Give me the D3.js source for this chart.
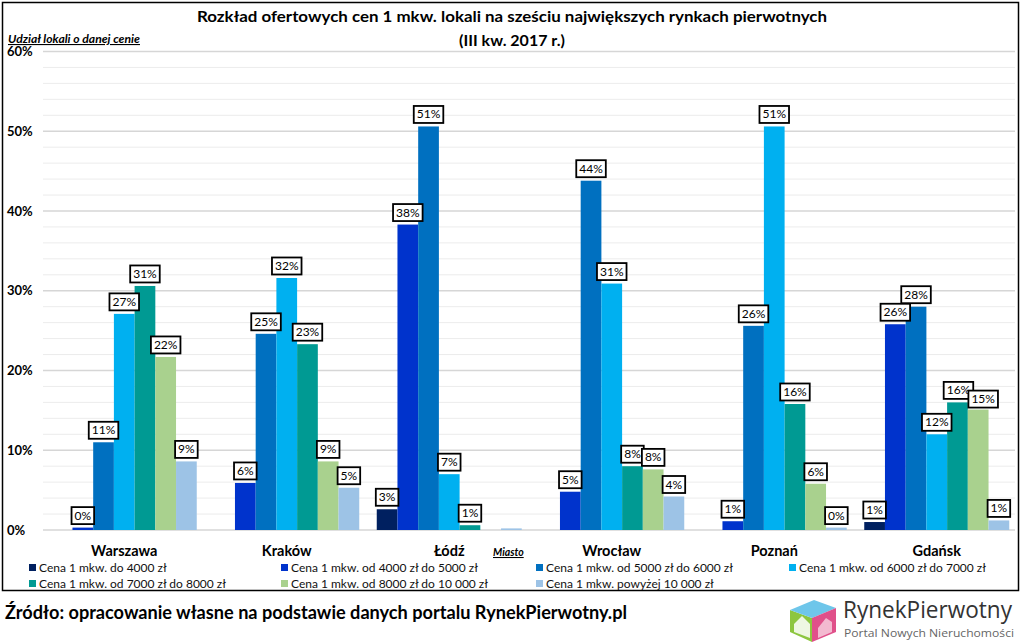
<!DOCTYPE html>
<html><head><meta charset="utf-8">
<script src="https://cdn.jsdelivr.net/npm/d3@7"></script>
<style>
html,body{margin:0;padding:0;background:#fff;}
svg{display:block;font-family:Lato,"Open Sans",sans-serif;}
</style></head>
<body>
<svg id="c" width="1024" height="644"></svg>
<script>
const cities = ["Warszawa","Kraków","Łódź","Wrocław","Poznań","Gdańsk"];
const seriesNames = [
  "Cena 1 mkw. do 4000 zł",
  "Cena 1 mkw. od 4000 zł do 5000 zł",
  "Cena 1 mkw. od 5000 zł do 6000 zł",
  "Cena 1 mkw. od 6000 zł do 7000 zł",
  "Cena 1 mkw. od 7000 zł do 8000 zł",
  "Cena 1 mkw. od 8000 zł do 10 000 zł",
  "Cena 1 mkw. powyżej 10 000 zł"
];
const seriesColors = ["#002060","#0033CC","#0070C0","#00B0F0","#009A93","#A9D18E","#9DC3E6"];
// values in % per city (order of cities)
const s1 = [null, null, 2.6, null, null, 1.0];
const s2 = [0.3, 5.9, 38.3, 4.8, 1.1, 25.8];
const s3 = [11.0, 24.6, 50.6, 43.8, 25.6, 28.0];
const s4 = [27.1, 31.6, 7.0, 30.9, 50.6, 12.0];
const s5 = [30.6, 23.3, 0.6, 8.0, 15.8, 16.0];
const s6 = [21.7, 8.6, null, 7.6, 5.8, 15.1];
const s7 = [8.6, 5.3, 0.2, 4.2, 0.3, 1.2];
const seriesValues = [s1,s2,s3,s4,s5,s6,s7];
const hiddenLabels = [["Łódź", 6]];
const yTicks = [0,10,20,30,40,50,60];

const svg = d3.select("#c");
const L = 43, R = 1018, T = 51.5, B = 530;
const x0 = d3.scaleBand().domain(cities).range([L, R]).padding(0);
const x1 = d3.scaleBand().domain(d3.range(7)).range([8.75, x0.bandwidth() - 8.75]).padding(0);
const y = d3.scaleLinear().domain([0, 60]).range([B, T]);
// label placement tweaks (to avoid collisions, as in the original)
const labelNudge = (city, si) => (city === "Gdańsk" && si === 5) ? [5, 1.5] : (city === "Gdańsk" && si === 4) ? [1, 0] : [0, 0];

// frame
svg.append("rect").attr("x",2.5).attr("y",2.5).attr("width",1016).attr("height",588)
  .attr("fill","none").attr("stroke","#000").attr("stroke-width",1.5);

// grid
const minor = d3.range(0, 61, 2).filter(v => v % 10 !== 0);
svg.append("g").selectAll("line").data(minor).join("line")
  .attr("x1", L).attr("x2", 1015).attr("y1", d => y(d)).attr("y2", d => y(d))
  .attr("stroke", "#ececec").attr("stroke-width", 1);
svg.append("g").selectAll("line").data(yTicks).join("line")
  .attr("x1", L).attr("x2", 1015).attr("y1", d => y(d)).attr("y2", d => y(d))
  .attr("stroke", "#d6d6d6").attr("stroke-width", 1.6);

// y axis labels
const yAxis = d3.axisLeft(y).tickValues(yTicks).tickFormat(d => d + "%").tickSize(0);
const ya = svg.append("g").attr("transform", "translate(32,0)").call(yAxis);
ya.select(".domain").remove();
ya.selectAll("text").attr("font-family","Lato, sans-serif").attr("font-size","13px")
  .attr("font-weight","bold").attr("fill","#000").attr("text-anchor","start").attr("x",-25);

// bars
const flat = [];
seriesValues.forEach((arr, si) => arr.forEach((v, ci) => {
  if (v !== null) flat.push({si, city: cities[ci], v});
}));
svg.append("g").selectAll("rect").data(flat).join("rect")
  .attr("x", d => x0(d.city) + x1(d.si))
  .attr("width", x1.bandwidth())
  .attr("y", d => y(d.v))
  .attr("height", d => y(0) - y(d.v))
  .attr("fill", d => seriesColors[d.si]);

// labels
const labGroup = svg.append("g");
flat.filter(d => !hiddenLabels.some(h => h[0] === d.city && h[1] === d.si)).forEach(d => {
  const [nx, ny] = labelNudge(d.city, d.si);
  const cx = x0(d.city) + x1(d.si) + x1.bandwidth() / 2 + nx;
  const g = labGroup.append("g");
  const bottom = y(d.v) - 3.5 + ny;
  const t = g.append("text").attr("x", cx).attr("y", bottom - 4.5)
    .attr("text-anchor", "middle").attr("font-size", "12px").attr("fill", "#000")
    .attr("font-family", "Lato, sans-serif")
    .text(Math.round(d.v) + "%");
  const w = t.node().getComputedTextLength() + 6;
  g.insert("rect", "text").attr("x", cx - w / 2).attr("y", bottom - 17).attr("width", w).attr("height", 17)
    .attr("fill", "#fff").attr("stroke", "#000").attr("stroke-width", 1.8);
});

// category labels
svg.append("g").selectAll("text").data(cities).join("text")
  .attr("x", d => x0(d) + x0.bandwidth() / 2).attr("y", 556)
  .attr("text-anchor", "middle").attr("font-size", "14.5px").attr("font-weight", "bold")
  .text(d => d);

// axis titles
svg.append("text").attr("x", 493).attr("y", 556).attr("font-size", "10.5px")
  .attr("font-weight", "bold").attr("font-style", "italic").attr("text-decoration", "underline")
  .text("Miasto");
svg.append("text").attr("x", 8).attr("y", 43).attr("font-size", "11px")
  .attr("font-weight", "bold").attr("font-style", "italic").attr("text-decoration", "underline")
  .attr("textLength", 132).attr("lengthAdjust", "spacingAndGlyphs")
  .text("Udział lokali o danej cenie");

// title
svg.append("text").attr("x", 512).attr("y", 22).attr("text-anchor", "middle")
  .attr("font-size", "16px").attr("font-weight", "bold")
  .attr("textLength", 630).attr("lengthAdjust", "spacingAndGlyphs")
  .text("Rozkład ofertowych cen 1 mkw. lokali na sześciu największych rynkach pierwotnych");
svg.append("text").attr("x", 512).attr("y", 46).attr("text-anchor", "middle")
  .attr("font-size", "16px").attr("font-weight", "bold")
  .text("(III kw. 2017 r.)");

// legend
const legX = [29, 281, 536, 789];
const leg = svg.append("g").selectAll("g").data(seriesNames).join("g")
  .attr("transform", (d, i) => `translate(${legX[i % 4]},${i < 4 ? 568 : 584})`);
leg.append("rect").attr("x", 0).attr("y", -4).attr("width", 7).attr("height", 7)
  .attr("fill", (d, i) => seriesColors[i]);
leg.append("text").attr("x", 10).attr("y", 4).attr("font-size", "12px").attr("fill", "#111")
  .text(d => d);

// source
svg.append("text").attr("x", 5).attr("y", 619).attr("font-size", "19px").attr("font-weight", "bold")
  .attr("textLength", 622).attr("lengthAdjust", "spacingAndGlyphs")
  .text("Źródło: opracowanie własne na podstawie danych portalu RynekPierwotny.pl");

// logo
const lg = svg.append("g").attr("transform", "translate(788,597)");
lg.append("polygon").attr("points", "2,13 24,21 24,45 2,35").attr("fill", "#8DC63F");
lg.append("polygon").attr("points", "2,13 26,3 48,11 24,21").attr("fill", "#6EC6EA");
lg.append("polygon").attr("points", "24,21 48,11 48,35 24,45").attr("fill", "#E0508A");
lg.append("polygon").attr("points", "6,27 14,19 22,27 22,41 6,35").attr("fill", "#fff").attr("opacity", 0.85);
lg.append("polygon").attr("points", "30,31 38,21 44,25 44,35 30,41").attr("fill", "#fff").attr("opacity", 0.6);
svg.append("text").attr("x", 843).attr("y", 618).attr("font-family", "'Open Sans', sans-serif")
  .attr("font-size", "24px").attr("fill", "#333").attr("textLength", 169).attr("lengthAdjust","spacingAndGlyphs")
  .text("RynekPierwotny");
svg.append("text").attr("x", 844).attr("y", 637).attr("font-family", "'Open Sans', sans-serif")
  .attr("font-size", "11px").attr("fill", "#666").attr("textLength", 170).attr("lengthAdjust","spacingAndGlyphs")
  .text("Portal Nowych Nieruchomości");
</script>
</body></html>
